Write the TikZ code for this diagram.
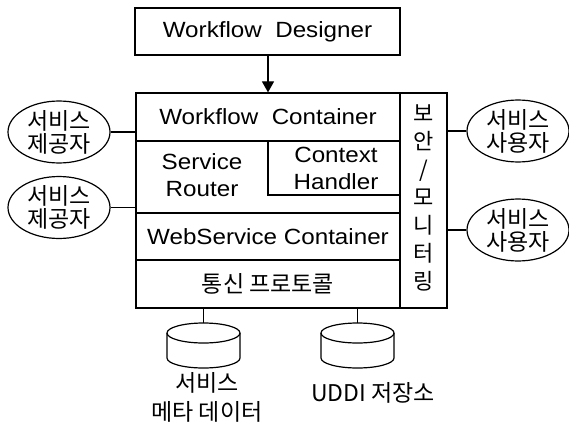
\documentclass[tikz,border=0pt]{standalone}
\usepackage{fontspec}
\setmainfont{Liberation Sans}[FakeStretch=1.1]
\newfontfamily\krfont{Noto Sans CJK KR}
\usetikzlibrary{shapes.geometric, arrows.meta}
\tikzset{
    part_box/.style={rectangle, draw=black, line width=1.2pt, inner sep=0pt},
    part_text/.style={inner sep=0pt, align=center, font=\fontsize{22}{27}\selectfont},
    kr_text/.style={inner sep=0pt, align=center, font=\krfont\fontsize{23}{23}\selectfont},
    actor_node/.style={ellipse, draw=black, line width=1.2pt, minimum width=102pt, minimum height=52pt, inner sep=0pt, kr_text},
    store_line/.style={line width=1.2pt, draw=black},
    link_line/.style={line width=1.2pt, draw=black},
    flow_arrow/.style={-{Triangle[width=12pt, length=11pt]}, line width=1.2pt, draw=black}
}
\newcommand{\storedrum}[2]{% centre x, name
    \draw[store_line] (#1, 333) ellipse [x radius=36.5, y radius=10];
    \draw[store_line] (#1-36.5, 333) -- (#1-36.5, 358)
        arc[start angle=180, end angle=0, x radius=36.5, y radius=10] -- (#1+36.5, 333);
    \coordinate (#2) at (#1, 323);
}

\begin{document}
\begin{tikzpicture}[x=1pt, y=-1pt]
\useasboundingbox (0,0) rectangle (569,425);

% boxes of the platform
\node[part_box, minimum width=265pt, minimum height=47pt] (designer) at (267.5, 31.5) {};
\node[part_text] (designer_txt) at (267.5, 31.5) {Workflow\ \ Designer};

\node[part_box, minimum width=264pt, minimum height=48pt] (wc) at (268, 117) {};
\node[part_text] (wc_txt) at (268, 117) {Workflow\ \ Container};

\node[part_box, minimum width=264pt, minimum height=72pt] (router) at (268, 177) {};
\node[part_text] (router_txt) at (202, 175) {Service\\Router};

\node[part_box, minimum width=132pt, minimum height=54pt] (handler) at (334, 168) {};
\node[part_text] (handler_txt) at (336, 168) {Context\\Handler};

\node[part_box, minimum width=264pt, minimum height=47pt] (wsc) at (268, 236.5) {};
\node[part_text] (wsc_txt) at (268, 236.5) {WebService Container};

\node[part_box, minimum width=264pt, minimum height=48pt] (comm) at (268, 284) {};
\node[kr_text] (comm_txt) at (268, 284) {통신 프로토콜};

\node[part_box, minimum width=47pt, minimum height=215pt] (security) at (423.5, 200.5) {};
\node[kr_text, font=\krfont\fontsize{22}{28}\selectfont] (security_txt) at (424, 198)
    {보\\안\\/\\모\\니\\터\\링};

% providers and users
\node[actor_node] (prov1) at (59, 132) {서비스\\제공자};
\node[actor_node] (prov2) at (59, 207.5) {서비스\\제공자};
\node[actor_node] (user1) at (518, 131) {서비스\\사용자};
\node[actor_node] (user2) at (518, 230) {서비스\\사용자};

% stores
\storedrum{203.5}{meta}
\storedrum{357.5}{uddi}
\node[kr_text, font=\krfont\fontsize{23}{29}\selectfont] (meta_txt) at (207, 397) {서비스\\메타 데이터};
\node[kr_text] (uddi_txt) at (373, 393) {UDDI 저장소};

\draw[flow_arrow] (designer.south -| wc.north) -- (wc.north);

\foreach \p in {prov1, prov2} {
    \draw[link_line] (\p.east) -- (\p.east -| wc.west);
}
\foreach \u in {user1, user2} {
    \draw[link_line] (\u.west) -- (\u.west -| security.east);
}
\foreach \s in {meta, uddi} {
    \draw[link_line] (\s) -- (\s |- comm.south);
}

\end{tikzpicture}
\end{document}
